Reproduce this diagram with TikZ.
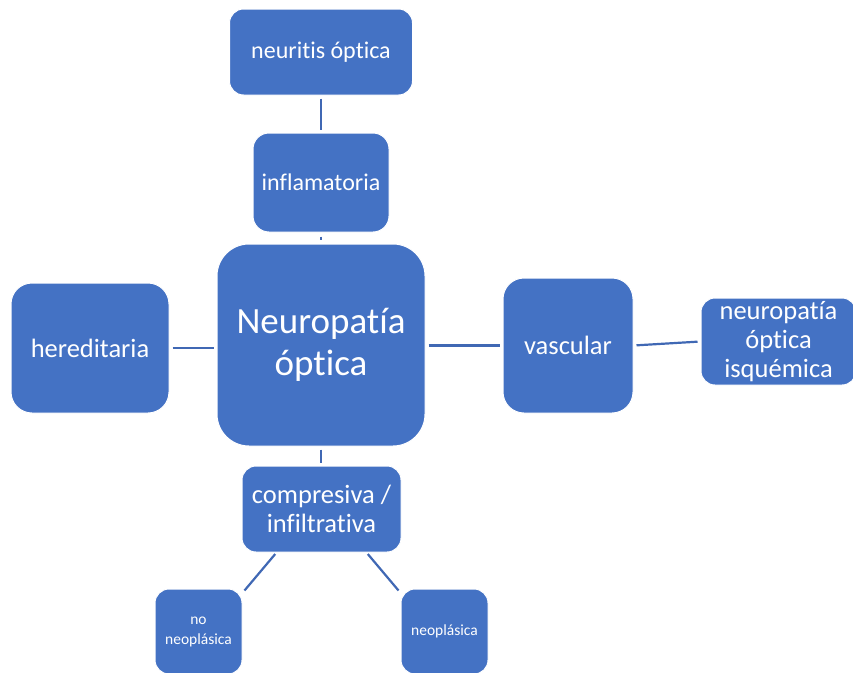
\documentclass[tikz,border=0pt]{standalone}
\usepackage{fontspec}
\setmainfont[Ligatures={NoCommon,NoRare}]{Carlito}
\definecolor{boxblue}{HTML}{4472C4}
\definecolor{lineblue}{HTML}{4068B4}
\begin{document}
\begin{tikzpicture}[x=1pt,y=-1pt,
  box/.style={draw=white,line width=1pt,fill=boxblue,text=white,align=center,inner sep=0pt},
  conn/.style={draw=lineblue,line width=2.2pt,shorten <=3pt,shorten >=3pt}]
\useasboundingbox (0,0) rectangle (853,672);
\clip (0,0) rectangle (853,672);
\node[box,minimum width=183pt,minimum height=86pt,rounded corners=14pt,font=\fontsize{24}{29}\selectfont] (neur) at (321,52) {neuritis óptica};
\node[box,minimum width=136pt,minimum height=99pt,rounded corners=16pt,font=\fontsize{24}{29}\selectfont] (infl) at (321,182.5) {inflamatoria};
\node[box,minimum width=208pt,minimum height=202pt,rounded corners=32pt,font=\fontsize{37}{42}\selectfont] (cen) at (321,345) {Neuropatía\\óptica};
\node[box,minimum width=158pt,minimum height=130pt,rounded corners=21pt,font=\fontsize{26.5}{29}\selectfont] (her) at (90,348) {hereditaria};
\node[box,minimum width=130pt,minimum height=135pt,rounded corners=21pt,font=\fontsize{26.5}{29}\selectfont] (vas) at (568,345.5) {vascular};
\node[box,minimum width=155pt,minimum height=87pt,rounded corners=14pt,font=\fontsize{26.5}{29}\selectfont] (isq) at (778.5,341.5) {neuropatía\\óptica\\isquémica};
\node[box,minimum width=159pt,minimum height=86pt,rounded corners=14pt,font=\fontsize{26.5}{29}\selectfont] (comp) at (321.5,509) {compresiva /\\infiltrativa};
\node[box,minimum width=87pt,minimum height=85pt,rounded corners=14pt,font=\fontsize{15.5}{20}\selectfont] (noneo) at (198.5,631.5) {no\\neoplásica};
\node[box,minimum width=87pt,minimum height=85pt,rounded corners=14pt,font=\fontsize{15.5}{20}\selectfont] (neo) at (444.5,631.5) {neoplásica};
\draw[conn] (neur.south) -- (infl.north);
\draw[conn,shorten <=4pt,shorten >=4pt] (infl.south) -- (infl.south |- cen.north);
\draw[conn] (her.east) -- (her.east -| cen.west);
\draw[conn] (cen.east |- vas.west) -- (vas.west);
\draw[conn] (vas.east) -- (isq.west);
\draw[conn] (cen.south) -- (cen.south |- comp.north);
\draw[conn,shorten <=2pt,shorten >=0pt] ([xshift=35pt]comp.south west) -- ([xshift=2pt,yshift=-2pt]noneo.north east);
\draw[conn,shorten <=2pt,shorten >=0pt] ([xshift=-35pt]comp.south east) -- ([xshift=-2pt,yshift=-2pt]neo.north west);
\end{tikzpicture}
\end{document}
